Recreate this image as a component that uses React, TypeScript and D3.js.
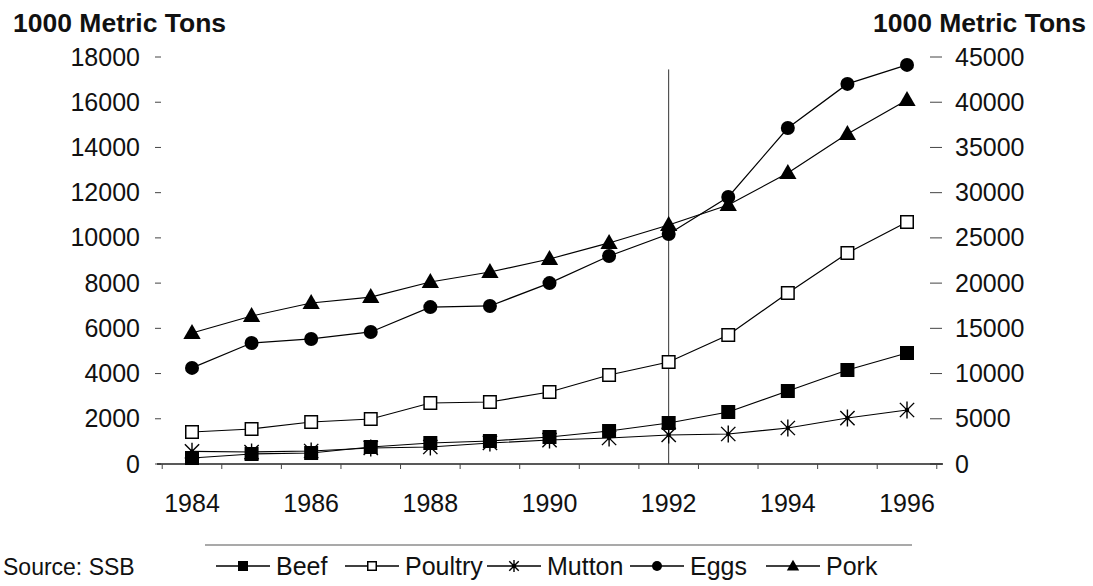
import React from "react";
import * as d3 from "d3";

const years = [1984, 1985, 1986, 1987, 1988, 1989, 1990, 1991, 1992, 1993, 1994, 1995, 1996];
const beef = [265, 442, 486, 752, 929, 1017, 1194, 1459, 1813, 2300, 3228, 4157, 4909];
const poultry = [1415, 1548, 1857, 1990, 2698, 2742, 3184, 3936, 4511, 5705, 7563, 9332, 10703];
const mutton = [560, 530, 575, 708, 752, 929, 1061, 1150, 1283, 1327, 1592, 2034, 2388];
const eggs = [4250, 5350, 5530, 5840, 6940, 6990, 8000, 9200, 10170, 11810, 14860, 16810, 17650];
// Pork is read against the right-hand axis
const pork = [14480, 16360, 17800, 18460, 20120, 21230, 22670, 24440, 26430, 28640, 32170, 36490, 40250];

const leftTicks = [0, 2000, 4000, 6000, 8000, 10000, 12000, 14000, 16000, 18000];
const rightTicks = [0, 5000, 10000, 15000, 20000, 25000, 30000, 35000, 40000, 45000];
const xTickLabels = [1984, 1986, 1988, 1990, 1992, 1994, 1996];
const markerYear = 1992;
const axisTitle = "1000 Metric Tons";
const sourceText = "Source: SSB";

type Shape = "fsquare" | "osquare" | "star" | "circle" | "triangle";
const seriesNames = ["Beef", "Poultry", "Mutton", "Eggs", "Pork"];
const seriesShapes: Shape[] = ["fsquare", "osquare", "star", "circle", "triangle"];
const seriesAxis = ["left", "left", "left", "left", "right"];
const seriesValues = [beef, poultry, mutton, eggs, pork];

const FONT = "'Liberation Sans', Arial, Helvetica, sans-serif";

function Marker({ shape, x, y, s }: { shape: Shape; x: number; y: number; s: number }) {
  const h = s / 2;
  if (shape === "fsquare") return <rect x={x - h} y={y - h} width={s} height={s} fill="#000" />;
  if (shape === "osquare")
    return <rect x={x - h + 0.75} y={y - h + 0.75} width={s - 1.5} height={s - 1.5} fill="#fff" stroke="#000" strokeWidth={1.5} />;
  if (shape === "circle") return <circle cx={x} cy={y} r={h} fill="#000" />;
  if (shape === "triangle") {
    const sym = d3.symbol().type(d3.symbolTriangle).size(s * s * 0.66)();
    return <path d={sym || ""} transform={`translate(${x},${y + 1})`} fill="#000" />;
  }
  // star (asterisk)
  const d = h * 0.95;
  return (
    <g stroke="#000" strokeWidth={1.4}>
      <line x1={x - d} y1={y - d} x2={x + d} y2={y + d} />
      <line x1={x - d} y1={y + d} x2={x + d} y2={y - d} />
      <line x1={x} y1={y - h - 1} x2={x} y2={y + h + 1} />
      <circle cx={x} cy={y} r={2.2} fill="#000" stroke="none" />
    </g>
  );
}

export default function App() {
  const W = 1093;
  const H = 586;
  const x = d3.scaleLinear().domain([1984, 1996]).range([192, 907]);
  const yL = d3.scaleLinear().domain([0, 18000]).range([464, 57]);
  const yR = d3.scaleLinear().domain([0, 45000]).range([464, 57]);
  const y0 = yL(0);

  const order = [4, 3, 1, 2, 0];
  const boundaries = d3.range(1983.5, 1997, 1);

  const legendTextX = [276, 405, 547, 690, 826];
  const legendY = 566;

  return (
    <svg width={W} height={H} style={{ position: "absolute", left: 0, top: 0, background: "#fff" }} fontFamily={FONT}>
      <rect width={W} height={H} fill="#fff" />
      {/* titles */}
      <text x={13} y={32} fontSize={26.5} fontWeight="bold" fill="#111">{axisTitle}</text>
      <text x={1086} y={32} fontSize={26.5} fontWeight="bold" fill="#111" textAnchor="end">{axisTitle}</text>

      {/* left axis ticks */}
      {leftTicks.map((t) => (
        <g key={"l" + t}>
          <line x1={155} x2={161} y1={yL(t)} y2={yL(t)} stroke="#444" strokeWidth={1} />
          <text x={140} y={yL(t) + 8.5} fontSize={25} textAnchor="end" fill="#111">{t}</text>
        </g>
      ))}
      {/* right axis ticks */}
      {rightTicks.map((t) => (
        <g key={"r" + t}>
          <line x1={930} x2={942} y1={yR(t)} y2={yR(t)} stroke="#444" strokeWidth={1} />
          <text x={955} y={yR(t) + 8.5} fontSize={25} textAnchor="start" fill="#111">{t}</text>
        </g>
      ))}

      {/* x axis */}
      <line x1={157} x2={943} y1={y0} y2={y0} stroke="#222" strokeWidth={1.5} />
      {boundaries.map((b) => (
        <line key={"b" + b} x1={x(b)} x2={x(b)} y1={y0} y2={y0 + 5} stroke="#444" strokeWidth={1} />
      ))}
      {xTickLabels.map((t) => (
        <text key={"x" + t} x={x(t)} y={512} fontSize={25} textAnchor="middle" fill="#111">{t}</text>
      ))}

      {/* reference line */}
      <line x1={x(markerYear)} x2={x(markerYear)} y1={yL(17450)} y2={y0} stroke="#333" strokeWidth={1} />

      {/* series */}
      {order.map((i) => {
        const ys = seriesAxis[i] === "right" ? yR : yL;
        const vals = seriesValues[i];
        const line = d3
          .line<number>()
          .x((_, k) => x(years[k]))
          .y((v) => ys(v));
        return (
          <g key={seriesNames[i]}>
            <path d={line(vals) || ""} fill="none" stroke="#000" strokeWidth={1.2} />
            {vals.map((v, k) => (
              <Marker key={k} shape={seriesShapes[i]} x={x(years[k])} y={ys(v)} s={i === 2 ? 15 : 14} />
            ))}
          </g>
        );
      })}

      {/* legend */}
      <line x1={205} x2={912} y1={545} y2={545} stroke="#555" strokeWidth={1.2} />
      {seriesNames.map((n, i) => {
        const cx = legendTextX[i] - 33;
        return (
          <g key={"lg" + n}>
            <line x1={cx - 27} x2={cx + 27} y1={legendY} y2={legendY} stroke="#000" strokeWidth={1.3} />
            <Marker shape={seriesShapes[i]} x={cx} y={legendY} s={10} />
            <text x={legendTextX[i]} y={legendY + 9} fontSize={25} fill="#111">{n}</text>
          </g>
        );
      })}
      <text x={3} y={legendY + 9} fontSize={23} fill="#111">{sourceText}</text>
    </svg>
  );
}
